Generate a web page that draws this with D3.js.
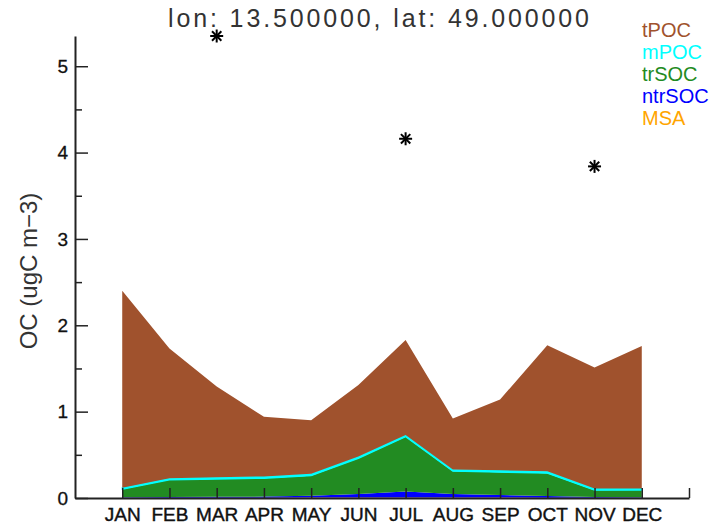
<!DOCTYPE html>
<html>
<head>
<meta charset="utf-8">
<script src="https://cdn.jsdelivr.net/npm/d3@7"></script>
<style>
  html, body { margin: 0; padding: 0; background: #fff; }
  svg { display: block; font-family: "Liberation Sans", Arial, sans-serif; }
</style>
</head>
<body>
<svg id="chart" width="718" height="526"></svg>
<script>
// Monthly organic carbon components (ugC m-3), stacked bottom to top
const months = ["JAN","FEB","MAR","APR","MAY","JUN","JUL","AUG","SEP","OCT","NOV","DEC"];
const MSA    = [0.003,0.003,0.004,0.004,0.005,0.005,0.006,0.005,0.005,0.004,0.003,0.003];
const ntrSOC = [0.005,0.008,0.010,0.012,0.020,0.040,0.070,0.040,0.030,0.020,0.008,0.005];
const trSOC  = [0.094,0.199,0.205,0.212,0.233,0.414,0.634,0.265,0.264,0.264,0.080,0.084];
const mPOC   = [0.018,0.020,0.021,0.022,0.022,0.021,0.020,0.020,0.021,0.022,0.019,0.018];
const tPOC   = [2.28,1.50,1.05,0.69,0.62,0.83,1.10,0.59,0.82,1.46,1.40,1.65];

// Observed OC (asterisks)
const obsMonths = [3, 7, 11];
const obsValues = [5.35, 4.16, 3.84];

const yTicks = [0, 1, 2, 3, 4, 5];
const yMinorTicks = [0.5, 1.5, 2.5, 3.5, 4.5];

const seriesNames  = ["MSA", "ntrSOC", "trSOC", "mPOC", "tPOC"];
const seriesColors = { tPOC: "#a0522d", mPOC: "#00ffff", trSOC: "#228b22", ntrSOC: "#0000ff", MSA: "#ffa500" };
const legendOrder  = ["tPOC", "mPOC", "trSOC", "ntrSOC", "MSA"];

const svg = d3.select("#chart");

const x = d3.scaleLinear().domain([0, 13]).range([75, 689]);
const y = d3.scaleLinear().domain([0, 5.35]).range([498, 36]);

// stacked table
const table = months.map((m, i) => ({
  month: i + 1, MSA: MSA[i], ntrSOC: ntrSOC[i], trSOC: trSOC[i], mPOC: mPOC[i], tPOC: tPOC[i]
}));
const stacked = d3.stack().keys(seriesNames)(table);

const area = d3.area()
  .x(d => x(d.data.month))
  .y0(d => y(d[0]))
  .y1(d => y(d[1]));

svg.append("g").selectAll("path")
  .data(stacked)
  .join("path")
  .attr("d", area)
  .attr("fill", d => seriesColors[d.key])
  .attr("stroke", d => d.key === "mPOC" ? seriesColors.mPOC : "none")
  .attr("stroke-width", d => d.key === "mPOC" ? 1.2 : 0);

// Axes
const axisColor = "#222";
const labelFont = "Liberation Sans, Arial, sans-serif";

const yAxis = svg.append("g")
  .attr("transform", `translate(${x(0)},0)`)
  .call(d3.axisLeft(y).tickValues(yTicks).tickFormat(d3.format("d"))
    .tickSizeInner(-13).tickSizeOuter(0).tickPadding(7));
yAxis.select(".domain").attr("stroke", axisColor).attr("stroke-width", 2);
yAxis.selectAll(".tick line").attr("stroke", axisColor).attr("stroke-width", 1.5);
yAxis.selectAll(".tick text").attr("font-size", 19).attr("fill", "#111")
  .attr("stroke", "#111").attr("stroke-width", 0.3)
  .attr("font-family", labelFont);

const yMinor = svg.append("g")
  .attr("transform", `translate(${x(0)},0)`)
  .call(d3.axisLeft(y).tickValues(yMinorTicks).tickFormat("")
    .tickSizeInner(-7).tickSizeOuter(0));
yMinor.select(".domain").remove();
yMinor.selectAll(".tick line").attr("stroke", axisColor).attr("stroke-width", 1.5);

const xAxis = svg.append("g")
  .attr("transform", `translate(0,${y(0)})`)
  .call(d3.axisBottom(x).tickValues(d3.range(1, 14))
    .tickFormat(d => months[d - 1] || "")
    .tickSizeInner(-10).tickSizeOuter(0).tickPadding(10));
xAxis.select(".domain").attr("stroke", axisColor).attr("stroke-width", 2);
xAxis.selectAll(".tick line").attr("stroke", axisColor).attr("stroke-width", 1.5);
xAxis.selectAll(".tick text").attr("font-size", 19).attr("fill", "#111")
  .attr("stroke", "#111").attr("stroke-width", 0.4)
  .attr("font-family", labelFont);

// Y axis title
svg.append("text")
  .attr("transform", `translate(37,${271}) rotate(-90)`)
  .attr("text-anchor", "middle")
  .attr("font-size", 24)
  .attr("fill", "#333")
  .text("OC (ugC m\u22123)");

// Title
svg.append("text")
  .attr("x", 168)
  .attr("y", 27)
  .attr("textLength", 421)
  .attr("lengthAdjust", "spacing")
  .attr("font-size", 25)
  .attr("fill", "#333")
  .text("lon: 13.500000, lat: 49.000000");

// Observation asterisks
const star = svg.append("g").selectAll("g")
  .data(obsMonths.map((m, i) => ({ m, v: obsValues[i] })))
  .join("g")
  .attr("transform", d => `translate(${x(d.m)},${y(d.v)})`);
const r = 6.5;
[[0, -r, 0, r], [-r, 0, r, 0], [-r * 0.72, -r * 0.72, r * 0.72, r * 0.72], [-r * 0.72, r * 0.72, r * 0.72, -r * 0.72]]
  .forEach(([x1, y1, x2, y2]) => {
    star.append("line")
      .attr("x1", x1).attr("y1", y1).attr("x2", x2).attr("y2", y2)
      .attr("stroke", "#000").attr("stroke-width", 2);
  });

// Legend
svg.append("g").selectAll("text")
  .data(legendOrder)
  .join("text")
  .attr("x", 642)
  .attr("y", (d, i) => 37 + i * 22)
  .attr("font-size", 20)
  .attr("fill", d => seriesColors[d])
  .text(d => d);
</script>
</body>
</html>
